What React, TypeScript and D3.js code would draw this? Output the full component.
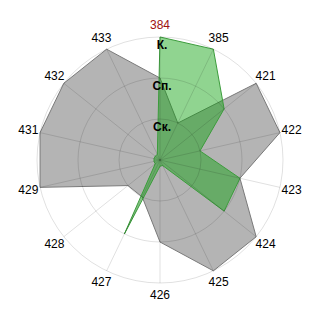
import React from "react";
import * as d3 from "d3";

const axes = ["384", "385", "421", "422", "423", "424", "425", "426", "427", "428", "429", "431", "432", "433"];
const greySeries = [2, 1, 3, 3, 2, 3, 3, 2, 1, 1, 3, 3, 3, 3];
const greenSeries = [3, 3, 2, 1, 2, 2, 0.15, 0.15, 2, 0.15, 0.15, 0.15, 0.15, 0.15];
const levels = [1, 2, 3];
const levelLabels = ["Ск.", "Сп.", "К."];

const W = 320, H = 320, CX = 160, CY = 160, R = 123;

export default function App() {
  const r = d3.scaleLinear().domain([0, 3]).range([0, R]);
  const angle = (i: number) => (i / axes.length) * 2 * Math.PI;
  const pt = (i: number, v: number): [number, number] => [
    CX + r(v) * Math.sin(angle(i)),
    CY - r(v) * Math.cos(angle(i)),
  ];
  const line = d3.line<number>().x((v, i) => pt(i, v)[0]).y((v, i) => pt(i, v)[1]).curve(d3.curveLinearClosed);
  const gridColor = "rgba(0,0,0,0.12)";
  return (
    <svg width={W} height={H} style={{ position: "absolute", left: 0, top: 0 }} fontFamily="'Liberation Sans', Arial, sans-serif">
      <rect width={W} height={H} fill="#fff" />
      <path d={line(greySeries) || ""} fill="#b4b4b4" stroke="#7a7a7a" strokeWidth={1} />
      <path d={line(greenSeries) || ""} fill="rgb(8,160,8)" fillOpacity={0.45} stroke="#3c9c3c" strokeWidth={1} />
      {levels.map((l) => (
        <circle key={l} cx={CX} cy={CY} r={r(l)} fill="none" stroke={gridColor} strokeWidth={1} />
      ))}
      {axes.map((a, i) => {
        const [x, y] = pt(i, 3);
        return <line key={a} x1={CX} y1={CY} x2={x} y2={y} stroke={gridColor} strokeWidth={1} />;
      })}
      {levels.map((l, k) => (
        <text key={l} x={162} y={CY - r(l) + 12} textAnchor="middle" fontSize={12} fontWeight="bold" fill="#000">
          {levelLabels[k]}
        </text>
      ))}
      {axes.map((a, i) => {
        const rr = 135;
        const x = CX + rr * Math.sin(angle(i));
        const y = CY - rr * Math.cos(angle(i));
        return (
          <text key={a} x={x} y={y} textAnchor="middle" dominantBaseline="central" fontSize={12} fill={i === 0 ? "#a01010" : "#000"}>
            {a}
          </text>
        );
      })}
    </svg>
  );
}
